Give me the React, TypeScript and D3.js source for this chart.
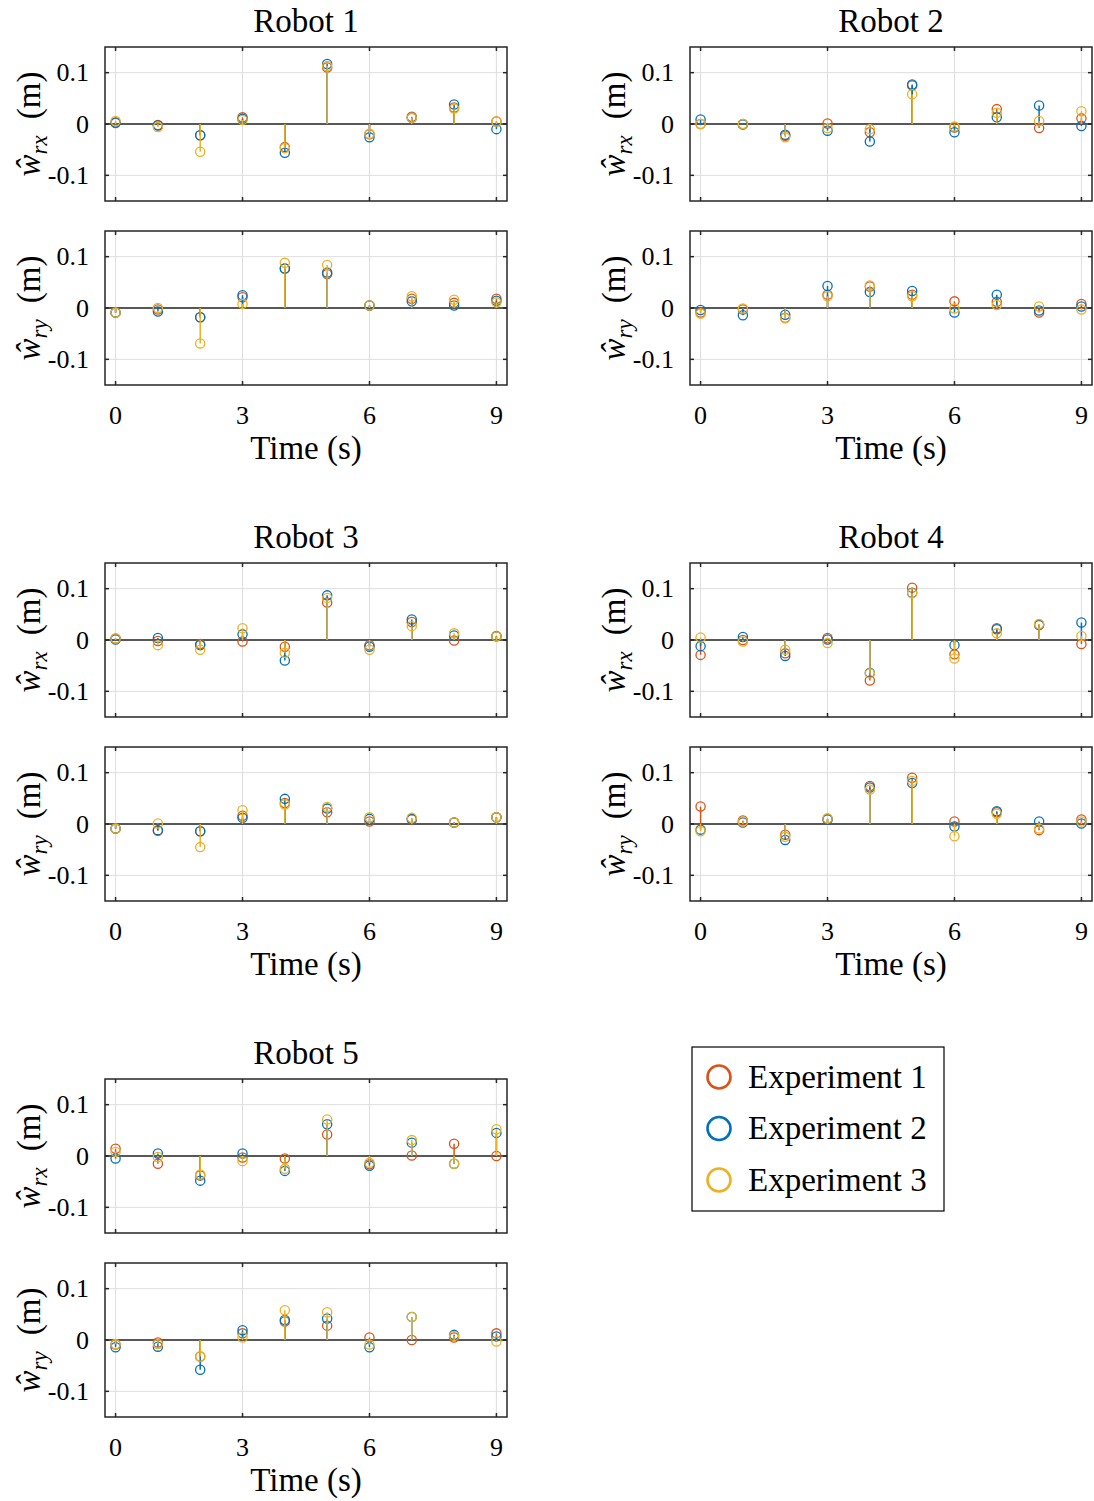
import * as d3 from 'd3';

const TIMES = [0, 1, 2, 3, 4, 5, 6, 7, 8, 9];
const EXPERIMENTS = ['Experiment 1', 'Experiment 2', 'Experiment 3'];
const COLORS = ['#D95319', '#0072BD', '#EDB120'];
const X_TICKS = [0, 3, 6, 9];
const Y_TICKS = [-0.1, 0, 0.1];
const Y_TICK_LABELS = ['-0.1', '0', '0.1'];

// Robot 1
const R1_WRX_E1 = [0.002, -0.002, -0.022, 0.013, -0.045, 0.110, -0.020, 0.014, 0.032, 0.005];
const R1_WRX_E2 = [0.003, -0.003, -0.022, 0.010, -0.056, 0.117, -0.026, 0.012, 0.038, -0.010];
const R1_WRX_E3 = [0.006, -0.006, -0.054, 0.008, -0.047, 0.113, -0.019, 0.012, 0.030, 0.005];
const R1_WRY_E1 = [-0.009, -0.003, -0.018, 0.021, 0.077, 0.066, 0.005, 0.018, 0.010, 0.018];
const R1_WRY_E2 = [-0.009, -0.007, -0.018, 0.025, 0.077, 0.069, 0.005, 0.013, 0.005, 0.014];
const R1_WRY_E3 = [-0.009, 0.000, -0.069, 0.008, 0.088, 0.084, 0.005, 0.023, 0.016, 0.011];

// Robot 2
const R2_WRX_E1 = [0.000, 0.000, -0.023, 0.001, -0.016, 0.075, -0.007, 0.029, -0.008, 0.011];
const R2_WRX_E2 = [0.009, -0.001, -0.021, -0.013, -0.034, 0.077, -0.016, 0.013, 0.036, -0.004];
const R2_WRX_E3 = [0.000, 0.000, -0.026, -0.008, -0.010, 0.058, -0.005, 0.022, 0.006, 0.025];
const R2_WRY_E1 = [-0.009, -0.003, -0.019, 0.026, 0.042, 0.026, 0.013, 0.012, -0.009, 0.008];
const R2_WRY_E2 = [-0.004, -0.014, -0.013, 0.043, 0.031, 0.033, -0.009, 0.026, -0.005, 0.003];
const R2_WRY_E3 = [-0.011, -0.001, -0.020, 0.023, 0.044, 0.023, -0.001, 0.006, 0.003, -0.003];

// Robot 3
const R3_WRX_E1 = [0.003, -0.002, -0.008, -0.003, -0.013, 0.073, -0.010, 0.035, -0.001, 0.008];
const R3_WRX_E2 = [0.001, 0.004, -0.010, 0.011, -0.040, 0.087, -0.013, 0.040, 0.009, 0.007];
const R3_WRX_E3 = [0.003, -0.010, -0.019, 0.023, -0.025, 0.082, -0.019, 0.027, 0.013, 0.007];
const R3_WRY_E1 = [-0.009, -0.013, -0.014, 0.016, 0.041, 0.023, 0.005, 0.009, 0.003, 0.013];
const R3_WRY_E2 = [-0.009, -0.012, -0.014, 0.012, 0.049, 0.030, 0.010, 0.010, 0.003, 0.013];
const R3_WRY_E3 = [-0.009, 0.001, -0.045, 0.027, 0.038, 0.033, 0.013, 0.012, 0.003, 0.013];

// Robot 4
const R4_WRX_E1 = [-0.029, 0.000, -0.026, 0.004, -0.079, 0.102, -0.028, 0.023, 0.029, -0.008];
const R4_WRX_E2 = [-0.012, 0.006, -0.031, 0.001, -0.064, 0.092, -0.010, 0.021, 0.030, 0.034];
const R4_WRX_E3 = [0.005, -0.003, -0.019, -0.006, -0.065, 0.091, -0.036, 0.013, 0.031, 0.008];
const R4_WRY_E1 = [0.034, 0.007, -0.021, 0.010, 0.074, 0.090, 0.005, 0.023, -0.012, 0.009];
const R4_WRY_E2 = [-0.011, 0.003, -0.031, 0.009, 0.071, 0.080, -0.005, 0.025, 0.005, 0.001];
const R4_WRY_E3 = [-0.014, 0.005, -0.025, 0.011, 0.067, 0.084, -0.024, 0.020, -0.009, 0.005];

// Robot 5
const R5_WRX_E1 = [0.014, -0.015, -0.038, -0.003, -0.005, 0.042, -0.016, 0.001, 0.024, 0.000];
const R5_WRX_E2 = [-0.005, 0.005, -0.048, 0.005, -0.029, 0.062, -0.019, 0.026, -0.015, 0.045];
const R5_WRX_E3 = [0.008, -0.002, -0.036, -0.010, -0.025, 0.071, -0.013, 0.031, -0.015, 0.052];
const R5_WRY_E1 = [-0.009, -0.005, -0.032, 0.013, 0.036, 0.028, 0.005, 0.000, 0.005, 0.013];
const R5_WRY_E2 = [-0.014, -0.013, -0.058, 0.019, 0.039, 0.042, -0.014, 0.045, 0.010, 0.007];
const R5_WRY_E3 = [-0.008, -0.008, -0.032, 0.005, 0.058, 0.054, -0.009, 0.045, 0.008, -0.003];

const ROBOTS = [
  { title: 'Robot 1', wrx: [R1_WRX_E1, R1_WRX_E2, R1_WRX_E3], wry: [R1_WRY_E1, R1_WRY_E2, R1_WRY_E3] },
  { title: 'Robot 2', wrx: [R2_WRX_E1, R2_WRX_E2, R2_WRX_E3], wry: [R2_WRY_E1, R2_WRY_E2, R2_WRY_E3] },
  { title: 'Robot 3', wrx: [R3_WRX_E1, R3_WRX_E2, R3_WRX_E3], wry: [R3_WRY_E1, R3_WRY_E2, R3_WRY_E3] },
  { title: 'Robot 4', wrx: [R4_WRX_E1, R4_WRX_E2, R4_WRX_E3], wry: [R4_WRY_E1, R4_WRY_E2, R4_WRY_E3] },
  { title: 'Robot 5', wrx: [R5_WRX_E1, R5_WRX_E2, R5_WRX_E3], wry: [R5_WRY_E1, R5_WRY_E2, R5_WRY_E3] },
];

const FONT = '"Liberation Serif", "Times New Roman", serif';
const COL_X = [105, 690];
const ROW_Y = [47, 563, 1079];
const PW = 402, PH = 154, SUB_GAP = 184;

const x = d3.scaleLinear().domain([-0.25, 9.25]).range([0, PW]);
const y = d3.scaleLinear().domain([-0.15, 0.15]).range([PH, 0]);

function StemAxes({ left, top, series, sub }: { left: number; top: number; series: number[][]; sub: string }) {
  const axisColor = '#262626';
  return (
    <g transform={`translate(${left},${top})`}>
      {/* grid */}
      {X_TICKS.map(t => (
        <line key={'gx' + t} x1={x(t)} x2={x(t)} y1={0} y2={PH} stroke="#dedede" strokeWidth={1} />
      ))}
      {Y_TICKS.map(t => (
        <line key={'gy' + t} x1={0} x2={PW} y1={y(t)} y2={y(t)} stroke="#dedede" strokeWidth={1} />
      ))}
      {/* baseline */}
      <line x1={0} x2={PW} y1={y(0)} y2={y(0)} stroke="#262626" strokeWidth={1.3} />
      {/* stems + markers, series drawn in order */}
      {series.map((vals, si) => (
        <g key={'s' + si}>
          {vals.map((v, i) => (
            <line key={i} x1={x(TIMES[i])} x2={x(TIMES[i])} y1={y(0)} y2={y(v)} stroke={COLORS[si]} strokeWidth={1.5} />
          ))}
          {vals.map((v, i) => (
            <circle key={'c' + i} cx={x(TIMES[i])} cy={y(v)} r={4.6} fill="none" stroke={COLORS[si]} strokeWidth={1.3} />
          ))}
        </g>
      ))}
      {/* box */}
      <rect x={0} y={0} width={PW} height={PH} fill="none" stroke={axisColor} strokeWidth={1.5} />
      {/* ticks */}
      {X_TICKS.map(t => (
        <g key={'tx' + t}>
          <line x1={x(t)} x2={x(t)} y1={PH} y2={PH - 4} stroke={axisColor} strokeWidth={1.5} />
          <line x1={x(t)} x2={x(t)} y1={0} y2={4} stroke={axisColor} strokeWidth={1.5} />
        </g>
      ))}
      {Y_TICKS.map((t, i) => (
        <g key={'ty' + t}>
          <line x1={0} x2={4} y1={y(t)} y2={y(t)} stroke={axisColor} strokeWidth={1.5} />
          <line x1={PW} x2={PW - 4} y1={y(t)} y2={y(t)} stroke={axisColor} strokeWidth={1.5} />
          <text x={-16} y={y(t)} dy="0.33em" textAnchor="end" fontFamily={FONT} fontSize={26} fill="#000">
            {Y_TICK_LABELS[i]}
          </text>
        </g>
      ))}
      {/* y label */}
      <g transform={`translate(${-65},${PH / 2}) rotate(-90)`}>
        <text textAnchor="middle" fontFamily={FONT} fontSize={33} fill="#000">
          <tspan fontStyle="italic">ŵ</tspan>
          <tspan fontStyle="italic" fontSize={23} dy={7}>{sub}</tspan>
          <tspan dy={-7} dx={16}>(m)</tspan>
        </text>
      </g>
    </g>
  );
}

export default function App() {
  return (
    <svg width={1094} height={1501} style={{ position: 'absolute', left: 0, top: 0, background: '#fff' }}>
      <rect width={1094} height={1501} fill="#fff" />
      {ROBOTS.map((r, ri) => {
        const left = COL_X[ri % 2];
        const top = ROW_Y[Math.floor(ri / 2)];
        const bottom = top + SUB_GAP + PH;
        return (
          <g key={r.title}>
            <text x={left + PW / 2} y={top - 15} textAnchor="middle" fontFamily={FONT} fontSize={33} fill="#000">
              {r.title}
            </text>
            <StemAxes left={left} top={top} series={r.wrx} sub="rx" />
            <StemAxes left={left} top={top + SUB_GAP} series={r.wry} sub="ry" />
            {X_TICKS.map(t => (
              <text key={t} x={left + x(t)} y={bottom + 39} textAnchor="middle" fontFamily={FONT} fontSize={26} fill="#000">
                {t}
              </text>
            ))}
            <text x={left + PW / 2} y={bottom + 74} textAnchor="middle" fontFamily={FONT} fontSize={33} fill="#000">
              Time (s)
            </text>
          </g>
        );
      })}
      {/* legend */}
      <g transform="translate(692,1047)">
        <rect x={0} y={0} width={252} height={164} fill="#fff" stroke="#000" strokeWidth={1.2} />
        {EXPERIMENTS.map((e, i) => (
          <g key={e} transform={`translate(0,${30 + i * 51.5})`}>
            <circle cx={27} cy={0} r={11.5} fill="none" stroke={COLORS[i]} strokeWidth={2.6} />
            <text x={56} y={0} dy="0.33em" fontFamily={FONT} fontSize={33} fill="#000">{e}</text>
          </g>
        ))}
      </g>
    </svg>
  );
}
